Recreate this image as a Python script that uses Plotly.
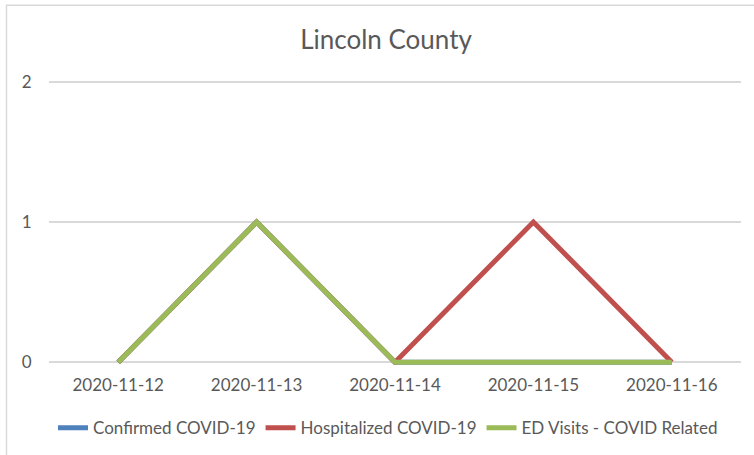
import plotly.graph_objects as go

dates = ["2020-11-12", "2020-11-13", "2020-11-14", "2020-11-15", "2020-11-16"]
confirmed = [0, 1, 0, 0, 0]
hospitalized = [0, 1, 0, 1, 0]
ed_visits = [0, 1, 0, 0, 0]
y_ticks = [0, 1, 2]

FONT = "Lato"
TXT = "#595959"
GRID = "#d9d9d9"

W, H = 754, 455
PAD = 0.02           # small y-range pad so plotly draws the 0 and 2 gridlines
UNIT = 140           # px per y unit (0 at 362, 2 at 82)
L, R = 49, 13
T = 82 - PAD * UNIT
B = H - (362 + PAD * UNIT)
pw, ph = W - L - R, H - T - B

def px(x):
    return (x - L) / pw

def py(y):
    return (H - B - y) / ph

fig = go.Figure()
fig.add_trace(go.Scatter(x=dates, y=confirmed, mode="lines", name="Confirmed COVID-19",
                         line=dict(color="#4F81BD", width=5)))
fig.add_trace(go.Scatter(x=dates, y=hospitalized, mode="lines", name="Hospitalized COVID-19",
                         line=dict(color="#C0504D", width=5)))
fig.add_trace(go.Scatter(x=dates, y=ed_visits, mode="lines", name="ED Visits - COVID Related",
                         line=dict(color="#9BBB59", width=5)))

fig.update_layout(
    width=W, height=H,
    margin=dict(l=L, r=R, t=T, b=B, autoexpand=False),
    paper_bgcolor="white", plot_bgcolor="white",
    font=dict(family=FONT, color=TXT, size=17),
    title=dict(text="Lincoln County", x=386 / W, xref="container", xanchor="center",
               y=1 - 40 / H, yref="container", yanchor="middle",
               font=dict(family=FONT, size=26, color=TXT)),
    xaxis=dict(type="category", showgrid=False, zeroline=False, showline=False,
               ticks="outside", ticklen=5, tickcolor="rgba(0,0,0,0)",
               tickfont=dict(size=17, color=TXT), range=[-0.5, 4.5]),
    yaxis=dict(range=[-PAD, 2 + PAD], tickvals=y_ticks, showgrid=True, gridcolor=GRID, gridwidth=1.5,
               zeroline=False, showline=False, ticks="outside", ticklen=13,
               tickcolor="rgba(0,0,0,0)", tickfont=dict(size=17, color=TXT)),
    legend=dict(orientation="h", x=px(388), xanchor="center", y=py(428), yanchor="middle",
                font=dict(size=17, color=TXT), tracegroupgap=0),
    showlegend=True,
    shapes=[dict(type="rect", xref="paper", yref="paper",
                 x0=px(6.5), x1=px(770), y0=py(470), y1=py(5.5),
                 line=dict(color=GRID, width=1.5), layer="below")],
)

fig.write_html("out.html", config={"displayModeBar": False},
               post_script="document.body.style.margin='0';")
